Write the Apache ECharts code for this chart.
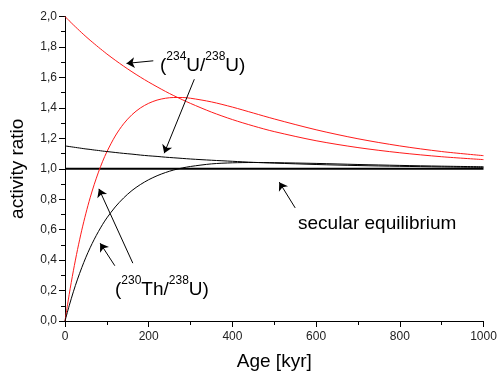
<!DOCTYPE html>
<html>
<head>
<meta charset="utf-8">
<script src="https://cdn.jsdelivr.net/npm/echarts@6/dist/echarts.min.js"></script>
<style>html,body{margin:0;padding:0;background:#fff;}#c{width:500px;height:376px;}</style>
</head>
<body>
<div id="c"></div>
<script>
// Age in kyr
const ages = [0, 10, 20, 30, 40, 50, 60, 70, 80, 90, 100, 120, 140, 160, 180, 200, 220, 240, 260, 280, 300, 350, 400, 450, 500, 600, 700, 800, 900, 1000];
// (234U/238U), initial 2.0 (red)
const u234Red = [2.000, 1.972, 1.945, 1.919, 1.893, 1.868, 1.844, 1.821, 1.798, 1.776, 1.754, 1.713, 1.674, 1.637, 1.602, 1.569, 1.538, 1.508, 1.480, 1.454, 1.429, 1.372, 1.323, 1.281, 1.244, 1.184, 1.139, 1.105, 1.079, 1.060];
// (234U/238U), initial 1.15 (black)
const u234Black = [1.150, 1.146, 1.142, 1.138, 1.134, 1.130, 1.127, 1.123, 1.120, 1.116, 1.113, 1.107, 1.101, 1.096, 1.090, 1.085, 1.081, 1.076, 1.072, 1.068, 1.064, 1.056, 1.049, 1.042, 1.037, 1.028, 1.021, 1.016, 1.012, 1.009];
// (230Th/238U) for initial 234U/238U = 2.0 (red)
const th230Red = [0.000, 0.174, 0.330, 0.470, 0.596, 0.708, 0.809, 0.898, 0.978, 1.049, 1.111, 1.215, 1.295, 1.355, 1.399, 1.430, 1.451, 1.463, 1.468, 1.468, 1.463, 1.439, 1.405, 1.366, 1.327, 1.256, 1.197, 1.150, 1.113, 1.086];
// (230Th/238U) for initial 234U/238U = 1.15 (black)
const th230Black = [0.000, 0.100, 0.192, 0.275, 0.350, 0.419, 0.481, 0.537, 0.588, 0.635, 0.677, 0.749, 0.808, 0.857, 0.896, 0.928, 0.954, 0.975, 0.992, 1.005, 1.015, 1.032, 1.039, 1.041, 1.040, 1.035, 1.028, 1.022, 1.017, 1.013];
// secular equilibrium
const eqAges = [0, 1000];
const eqRatio = [1.0, 1.0];

// annotation arrows [from, to] in data coordinates
const arrows = [
  [[211, 1.709], [147, 1.692]],
  [[309, 1.588], [237, 1.102]],
  [[162, 0.380], [81, 0.868]],
  [[119, 0.363], [84, 0.511]],
  [[550, 0.743], [512, 0.912]]
];

const FONT = 'Liberation Sans, Arial, sans-serif';
const pair = (xs, ys) => xs.map((x, i) => [x, ys[i]]);

const chart = echarts.init(document.getElementById('c'), null, {renderer: 'canvas'});

const lineSeries = (name, ys, color, width) => ({
  name, type: 'line', data: pair(ages, ys), smooth: 0.3, showSymbol: false, symbol: 'none',
  lineStyle: {color, width}, silent: true, z: 3
});

const supRich = {
  m: {fontSize: 19, fontFamily: FONT, color: '#000', lineHeight: 30},
  s: {fontSize: 12, fontFamily: FONT, color: '#000', lineHeight: 12, verticalAlign: 'top'}
};

chart.setOption({
  animation: false,
  grid: {left: 65, right: 16.5, top: 16.5, bottom: 52.5},
  xAxis: {
    type: 'value', min: 0, max: 1000, interval: 200,
    name: 'Age [kyr]', nameLocation: 'middle', nameGap: 31,
    nameTextStyle: {fontSize: 19, fontFamily: FONT, color: '#000'},
    axisLine: {show: true, lineStyle: {color: '#000', width: 1}},
    axisTick: {show: true, inside: false, length: 6, lineStyle: {color: '#000'}},
    minorTick: {show: true, splitNumber: 2, length: 4, lineStyle: {color: '#000'}},
    splitLine: {show: false},
    axisLabel: {fontSize: 12, fontFamily: FONT, color: '#222', margin: 10,
      formatter: v => String(v)}
  },
  yAxis: {
    type: 'value', min: 0, max: 2.0, interval: 0.2,
    name: 'activity ratio', nameLocation: 'middle', nameGap: 38,
    nameTextStyle: {fontSize: 19, fontFamily: FONT, color: '#000'},
    axisLine: {show: true, lineStyle: {color: '#000', width: 1}},
    axisTick: {show: true, inside: false, length: 6, lineStyle: {color: '#000'}},
    minorTick: {show: true, splitNumber: 2, length: 4, lineStyle: {color: '#000'}},
    splitLine: {show: false},
    axisLabel: {fontSize: 12, fontFamily: FONT, color: '#222', margin: 8,
      formatter: v => v.toFixed(1).replace('.', ',')}
  },
  series: [
    {
      name: 'secular equilibrium', type: 'line', data: pair(eqAges, eqRatio), showSymbol: false, symbol: 'none',
      lineStyle: {color: '#000', width: 2}, silent: true, z: 2,
      markLine: {
        silent: true, symbol: ['none', 'arrow'], symbolSize: 8, animation: false,
        label: {show: false}, emphasis: {disabled: true},
        lineStyle: {color: '#000', width: 1, type: 'solid'},
        data: arrows.map(a => [{coord: a[0]}, {coord: a[1]}])
      }
    },
    lineSeries('234U/238U (2.0)', u234Red, '#ff1a1a', 1),
    lineSeries('230Th/238U (2.0)', th230Red, '#ff1a1a', 1),
    lineSeries('234U/238U (1.15)', u234Black, '#000', 1),
    lineSeries('230Th/238U (1.15)', th230Black, '#000', 1)
  ],
  graphic: [
    {type: 'text', left: 160, top: 65.3 - 15, silent: true,
      style: {text: '{m|(}{s|234}{m|U/}{s|238}{m|U)}', rich: supRich}},
    {type: 'text', left: 115, top: 290 - 15, silent: true,
      style: {text: '{m|(}{s|230}{m|Th/}{s|238}{m|U)}', rich: supRich}},
    {type: 'text', x: 298, y: 223.3, silent: true,
      style: {text: 'secular equilibrium', fontSize: 19, fontFamily: FONT, fill: '#000', verticalAlign: 'middle'}}
  ]
});
</script>
</body>
</html>
